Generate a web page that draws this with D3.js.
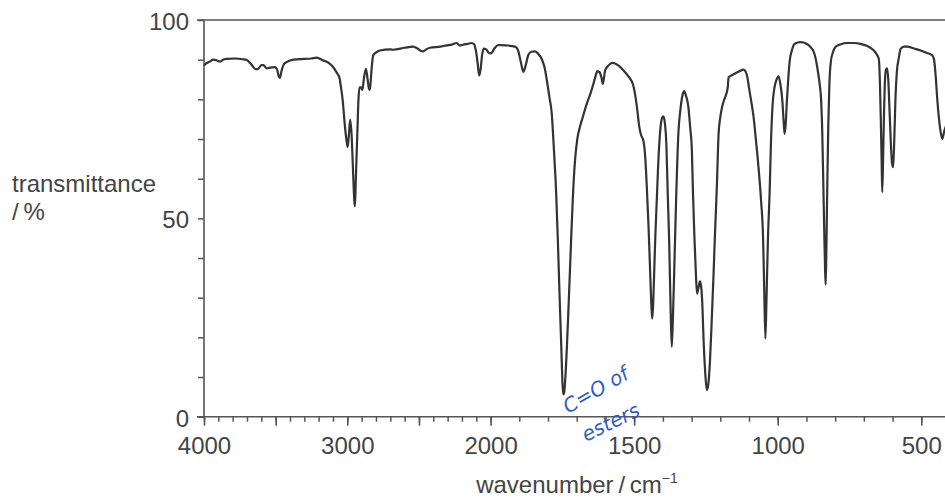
<!DOCTYPE html>
<html>
<head>
<meta charset="utf-8">
<script src="https://cdn.jsdelivr.net/npm/d3@7"></script>
<style>
  html, body { margin: 0; padding: 0; background: #fff; }
  svg { display: block; }
</style>
</head>
<body>
<svg id="chart" width="945" height="500"></svg>
<script>
// ---- data ----
const wavenumbers = [4000,3993,3960,3935,3910,3888,3860,3842,3780,3730,3702,3670,3640,3625,3600,3586,3560,3540,3505,3490,3478,3470,3460,3440,3423,3377,3300,3250,3214,3190,3168,3130,3098,3070,3056,3040,3032,3016,3005,2998,2990,2980,2970,2960,2952,2947,2942,2935,2930,2922,2915,2905,2895,2885,2870,2858,2848,2842,2832,2819,2800,2772,2700,2679,2600,2540,2510,2485,2470,2450,2423,2350,2307,2270,2237,2215,2190,2160,2132,2115,2103,2090,2080,2070,2060,2048,2030,2015,2005,1997,1985,1973,1945,1915,1905,1895,1886,1878,1869,1858,1845,1835,1822,1812,1805,1795,1787,1780,1772,1766,1760,1754,1750,1747,1744,1738,1730,1722,1714,1706,1698,1689,1677,1665,1652,1642,1634,1628,1620,1614,1609,1605,1601,1590,1575,1560,1537,1520,1503,1495,1489,1482,1476,1468,1462,1456,1450,1445,1440,1437,1434,1430,1426,1421,1416,1410,1404,1398,1393,1388,1383,1378,1373,1369,1365,1360,1354,1346,1338,1330,1326,1320,1311,1305,1299,1295,1290,1285,1281,1276,1271,1267,1263,1258,1252,1247,1242,1236,1230,1224,1218,1212,1206,1200,1194,1186,1179,1174,1171,1162,1154,1135,1119,1112,1107,1098,1090,1084,1075,1067,1058,1051,1047,1043,1039,1034,1028,1024,1018,1011,1004,997,991,984,979,976,972,968,963,958,950,941,921,900,886,876,869,860,854,849,845,841,838,835,833,831,829,827,824,820,815,808,799,780,758,735,712,690,665,655,648,644,641,638,636,633,630,627,623,619,615,611,606,602,598,594,590,585,578,572,560,549,525,502,480,462,456,450,444,435,427,420,410];
const transmittance = [88.5,88.8,89.5,90.0,89.8,89.5,90.1,90.2,90.3,90.1,89.9,88.8,87.6,87.6,88.6,88.6,87.8,88.0,88.1,87.5,85.8,85.4,87.0,89.0,89.4,90.0,90.2,90.3,90.5,90.2,89.8,89.2,88.1,86.5,85.6,82.0,79.7,73.0,69.5,68.0,70.5,74.9,71.0,62.0,55.0,53.0,58.0,66.0,71.4,80.0,83.0,83.0,82.4,85.0,87.7,85.0,82.6,82.4,87.0,91.1,91.8,92.3,92.6,92.5,93.0,93.3,92.8,92.2,92.1,92.6,93.0,93.3,93.6,93.8,94.2,93.6,93.8,94.0,94.2,93.9,92.3,89.0,86.0,87.5,91.0,92.8,92.6,91.8,91.6,91.7,93.0,93.7,93.6,93.3,92.5,89.5,86.9,88.5,91.1,92.0,92.1,91.5,90.2,88.0,85.2,80.5,76.4,68.0,57.0,45.0,31.0,18.0,9.0,5.6,6.0,12.0,25.0,40.0,54.5,64.6,70.0,73.0,76.0,78.9,81.5,83.9,86.0,87.1,86.8,85.5,83.9,85.5,87.3,88.5,89.2,88.8,87.3,85.8,83.5,80.5,77.2,73.0,71.0,69.6,66.0,58.0,48.0,38.0,28.0,24.7,28.0,37.0,46.0,55.0,64.0,71.4,75.0,75.7,74.0,69.0,56.0,44.0,27.0,17.6,25.0,38.0,54.5,71.4,78.0,81.5,82.1,81.0,78.0,73.0,67.1,56.0,45.0,36.0,31.0,32.5,34.1,33.0,29.0,19.0,10.5,6.7,8.0,14.0,24.0,35.0,47.0,58.0,71.3,75.5,78.0,80.0,81.4,83.0,85.6,86.0,86.3,87.0,87.5,87.0,86.0,82.0,78.5,75.5,69.0,62.9,54.5,45.0,32.0,19.7,30.0,45.0,57.0,68.0,78.5,83.1,85.0,85.8,84.0,79.7,74.0,71.3,74.0,79.7,85.5,89.8,92.5,94.0,94.4,94.0,93.2,92.2,90.6,87.0,83.9,80.0,72.0,58.0,47.0,37.0,33.3,40.0,50.0,60.0,73.0,84.0,89.5,91.8,93.2,93.9,94.2,94.2,94.0,93.5,92.3,91.3,90.2,84.0,75.0,64.0,56.6,65.0,76.0,84.0,87.5,87.8,85.0,78.0,69.0,64.0,62.9,70.0,80.0,87.0,90.5,92.7,93.3,93.3,92.8,92.3,91.7,91.1,90.2,86.0,79.7,73.0,70.0,72.0,74.0];

const xMinorTicks = d3.range(4000, 399, -100);
const xMajorTicks = [4000, 3500, 3000, 2500, 2000, 1500, 1000, 500];
const xTickLabels = ["4000", "", "3000", "", "2000", "1500", "1000", "500"];
const yTicks = d3.range(0, 101, 10);
const yTickLabels = [0, 50, 100];

// ---- scales ----
const svg = d3.select("#chart");
const x = d3.scaleLinear().domain([4000, 2000, 400]).range([204, 490.6, 950]);
const y = d3.scaleLinear().domain([0, 100]).range([416.7, 20]);

const axisColor = "#555";
const textColor = "#444";
const fontFam = "'Liberation Sans', Arial, Helvetica, sans-serif";
const fs = 24;

// top frame line (with small tick extension to the left)
svg.append("line")
  .attr("x1", 197).attr("x2", 950)
  .attr("y1", y(100)).attr("y2", y(100))
  .attr("stroke", axisColor).attr("stroke-width", 1.6);

// y axis
const yAxis = d3.axisLeft(y).tickValues(yTicks).tickSize(6).tickPadding(9)
  .tickFormat(d => yTickLabels.includes(d) ? String(d) : "");
const gy = svg.append("g").attr("transform", "translate(204,0)").call(yAxis);
gy.select(".domain").remove();
gy.append("line").attr("x1", 0).attr("x2", 0).attr("y1", y(100)).attr("y2", y(0))
  .attr("stroke", axisColor).attr("stroke-width", 1.6);
gy.selectAll(".tick line").attr("stroke", axisColor).attr("stroke-width", 1.5);
gy.selectAll(".tick text").attr("fill", textColor).attr("font-size", fs)
  .attr("font-family", fontFam).attr("dy", "0.40em");

// x axis: minor
const xAxisMinor = d3.axisBottom(x).tickValues(xMinorTicks).tickSize(5).tickFormat("");
const gxm = svg.append("g").attr("transform", `translate(0,${y(0)})`).call(xAxisMinor);
gxm.select(".domain").remove();
gxm.selectAll(".tick line").attr("stroke", axisColor).attr("stroke-width", 1.5);

// x axis: major
const xAxisMajor = d3.axisBottom(x).tickValues(xMajorTicks).tickSize(9).tickPadding(11)
  .tickFormat((d, i) => xTickLabels[i]);
const gx = svg.append("g").attr("transform", `translate(0,${y(0)})`).call(xAxisMajor);
gx.select(".domain").remove();
gx.append("line").attr("x1", 197).attr("x2", 950).attr("y1", 0).attr("y2", 0)
  .attr("stroke", axisColor).attr("stroke-width", 1.6);
gx.selectAll(".tick line").attr("stroke", axisColor).attr("stroke-width", 1.6);
gx.selectAll(".tick text").attr("fill", textColor).attr("font-size", fs)
  .attr("font-family", fontFam);

// spectrum line
const pts = wavenumbers.map((w, i) => [w, transmittance[i]]);
const line = d3.line().x(d => x(d[0])).y(d => y(d[1])).curve(d3.curveMonotoneX);
svg.append("path").datum(pts)
  .attr("d", line)
  .attr("fill", "none")
  .attr("stroke", "#333")
  .attr("stroke-width", 2.2)
  .attr("stroke-linejoin", "round");

// axis titles
svg.append("text").attr("x", 12).attr("y", 192)
  .attr("font-family", fontFam).attr("font-size", fs).attr("fill", textColor)
  .text("transmittance");
svg.append("text").attr("x", 12).attr("y", 220)
  .attr("font-family", fontFam).attr("font-size", fs).attr("fill", textColor)
  .text("/\u2009%");

const xt = svg.append("text").attr("x", 577).attr("y", 493)
  .attr("text-anchor", "middle")
  .attr("font-family", fontFam).attr("font-size", fs).attr("fill", textColor);
xt.append("tspan").text("wavenumber\u2009/\u2009cm");
xt.append("tspan").attr("font-size", 14).attr("dy", -10).text("\u22121");

// handwritten annotation
const ann = svg.append("g").attr("fill", "#2f5cc0")
  .attr("font-family", "'DejaVu Sans', sans-serif").attr("font-style", "italic");
ann.append("text").attr("transform", "translate(568,414) rotate(-30)")
  .attr("font-size", 20).text("C=O of");
ann.append("text").attr("transform", "translate(586,442) rotate(-26)")
  .attr("font-size", 20).text("esters");
</script>
</body>
</html>
